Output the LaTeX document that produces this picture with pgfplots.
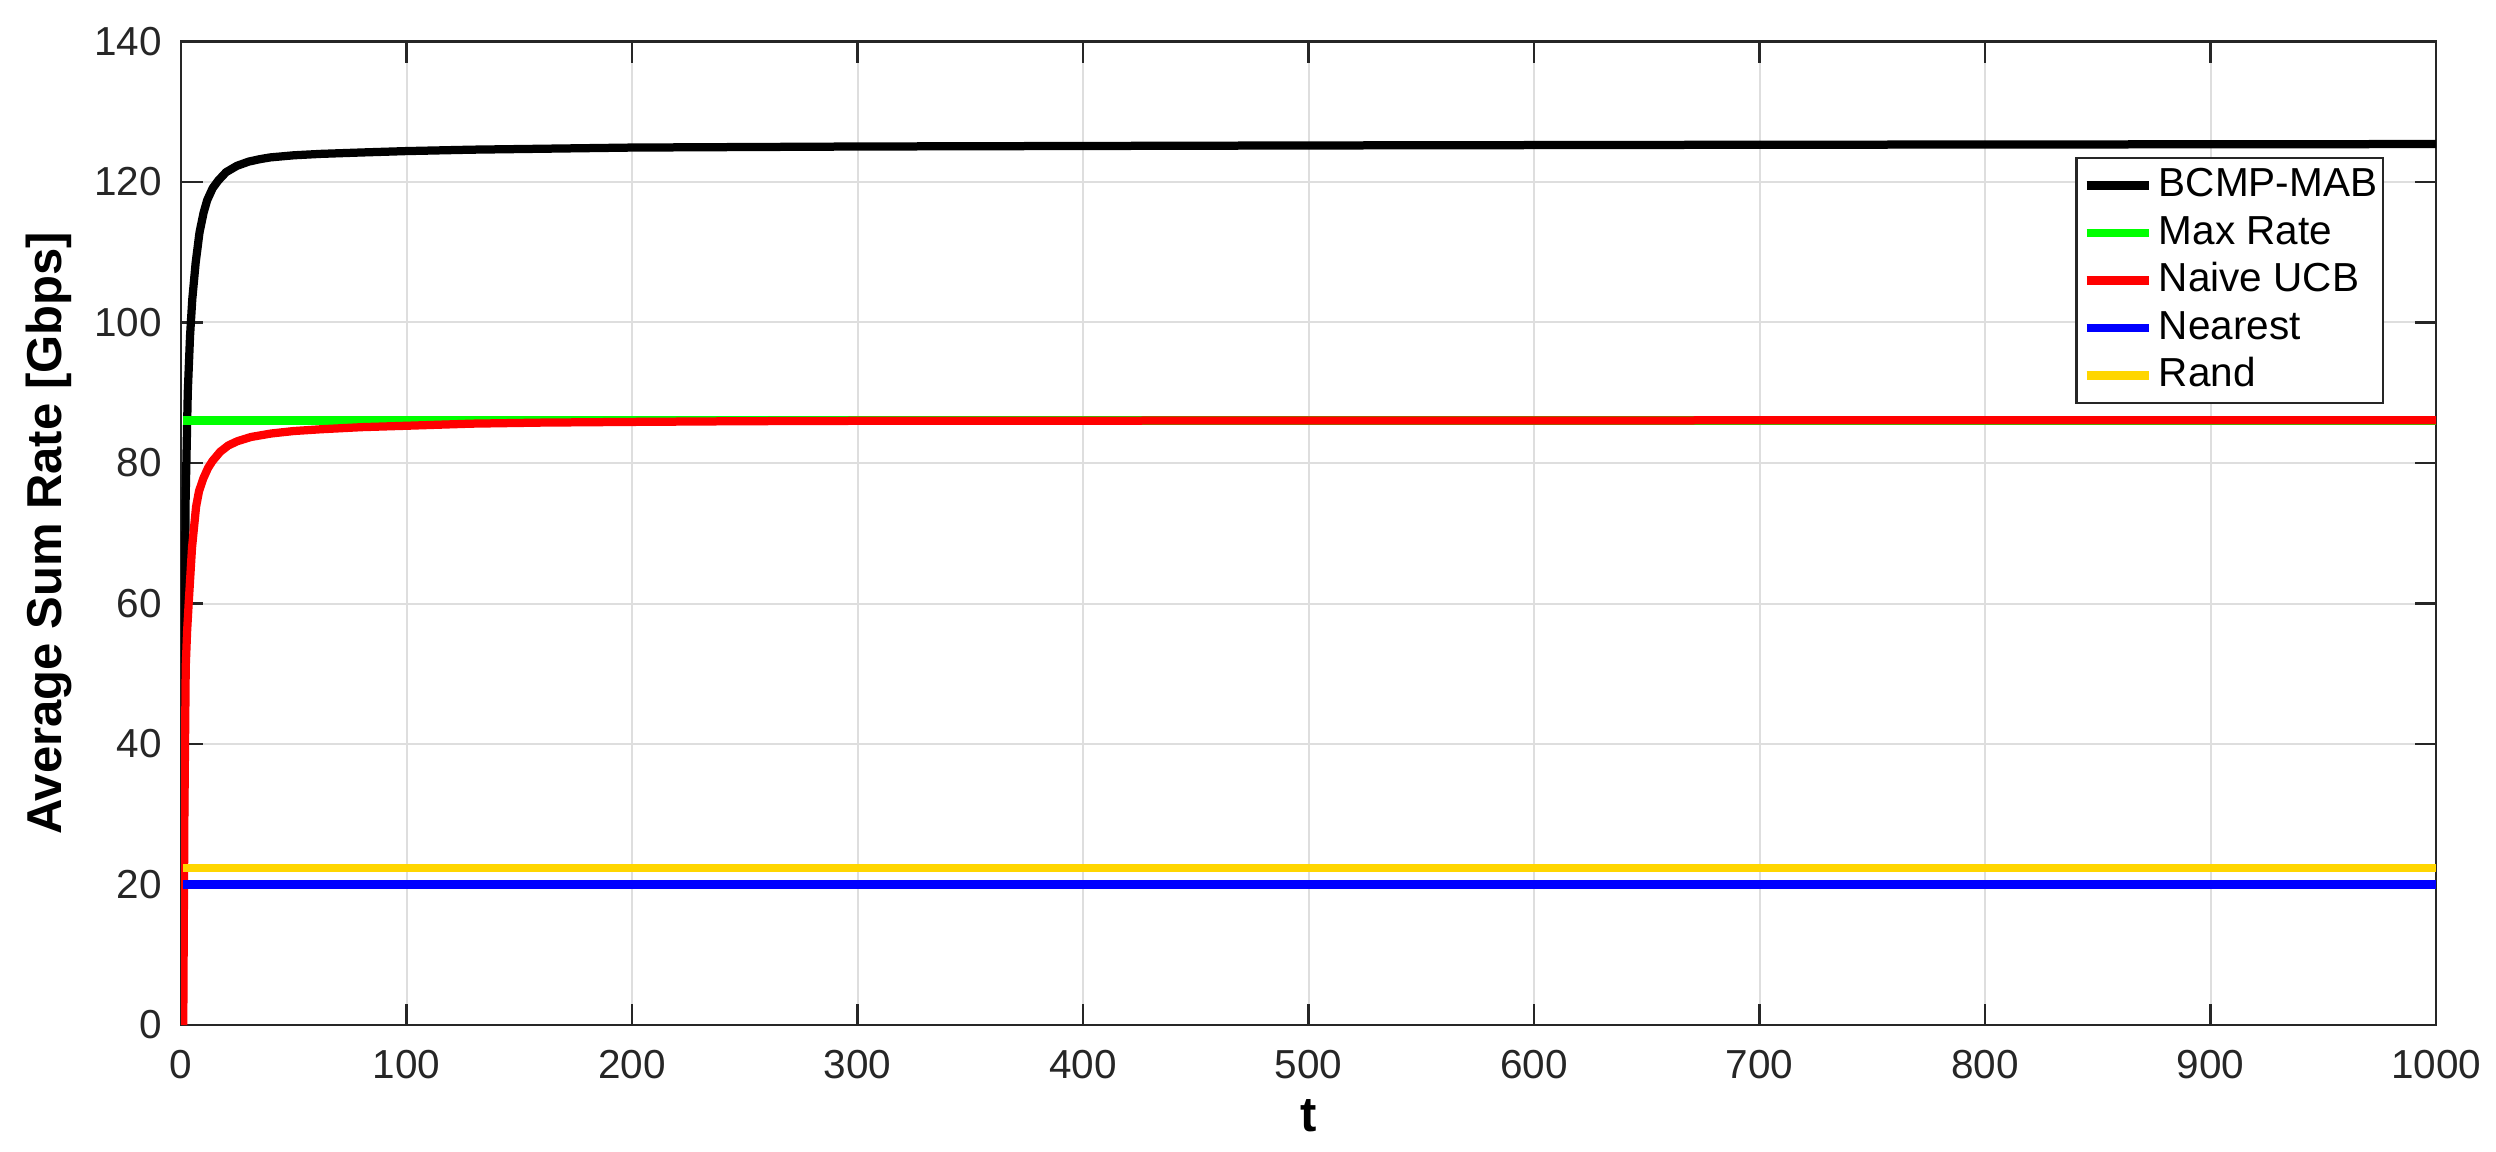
\documentclass[border=0pt]{standalone}
\usepackage{pgfplots}
\pgfplotsset{compat=1.18}
\usepackage{fontspec}
\setmainfont{Liberation Sans}
\definecolor{mgray}{rgb}{0.15,0.15,0.15}
\definecolor{mgold}{rgb}{1,0.84,0}
\begin{document}
\begin{tikzpicture}
\begin{axis}[
  scale only axis,
  width=451pt, height=196.7pt,
  xmin=0, xmax=1000, ymin=0, ymax=140,
  xtick={0,100,...,1000}, ytick={0,20,...,140},
  /pgf/number format/assume math mode=true,
  /pgf/number format/set thousands separator={},
  tick label style={font=\fontsize{8.1}{9.5}\selectfont, text=mgray},
  xticklabel style={yshift=-1.6pt},
  yticklabel style={xshift=-0.3pt},
  grid=major,
  major grid style={line width=0.4pt, draw=black!13},
  axis line style={line width=0.45pt, draw=mgray},
  major tick style={line width=0.45pt, draw=mgray},
  major tick length=4.3pt,
  tick align=inside,
  xlabel={\textbf{t}},
  ylabel={\textbf{Average Sum Rate [Gbps]}},
  label style={font=\fontsize{9.8}{11}\selectfont},
  xlabel style={at={(axis description cs:0.5,0)}, anchor=base, yshift=-21.2pt},
  ylabel style={at={(axis description cs:-0.0532,0.5)}, anchor=base},
  legend cell align=left,
  legend style={at={(axis description cs:0.977,0.883)}, anchor=north east,
    font=\fontsize{8.1}{9.6}\selectfont, draw=mgray, line width=0.45pt,
    inner xsep=1.2pt, inner ysep=0.8pt, row sep=0pt, column sep=1.2pt,
    nodes={inner xsep=0pt, inner ysep=0pt, text height=7pt, text depth=2.5pt}},
  legend image code/.code={\draw[#1, line width=1.65pt] (0pt,0pt) -- (12.4pt,0pt);},
  every axis plot/.append style={line width=1.65pt, line join=round},
]
\addplot[black] coordinates {
(1,13) (2,74) (3,90) (4,98) (5,103.3) (6.5,108.5) (8.2,112.8) (10,115.6) (11.6,117.4) (14,119.1) (16.5,120.2) (20,121.4) (24.8,122.3) (30,122.9) (35,123.25) (39.6,123.5) (50,123.8) (61.9,124.0) (80,124.2) (100,124.4) (129,124.6) (200,124.9) (300,125.05) (500,125.2) (700,125.3) (1000,125.4)
};
\addlegendentry{BCMP-MAB}
\addplot[green] coordinates {(1,86.05) (1000,86.05)};
\addlegendentry{Max Rate}
\addplot[red] coordinates {
(1,0) (1.5,30) (2.1,51) (2.7,56) (3.4,60) (4.9,68) (6.7,73.8) (8,76) (9.9,77.8) (12,79.3) (14,80.3) (17.4,81.6) (21,82.5) (25,83.1) (31,83.7) (40,84.2) (50,84.55) (62,84.8) (80,85.1) (100,85.3) (129,85.6) (160,85.75) (200,85.85) (250,85.95) (300,86.0) (500,86.05) (1000,86.1)
};
\addlegendentry{Naive UCB}
\addplot[blue] coordinates {(1,20) (1000,20)};
\addlegendentry{Nearest}
\addplot[mgold] coordinates {(1,22.4) (1000,22.4)};
\addlegendentry{Rand}
\end{axis}
\pgfresetboundingbox
\path[use as bounding box] (-36.2pt,-25.2pt) rectangle (463pt,205pt);
\end{tikzpicture}
\end{document}
